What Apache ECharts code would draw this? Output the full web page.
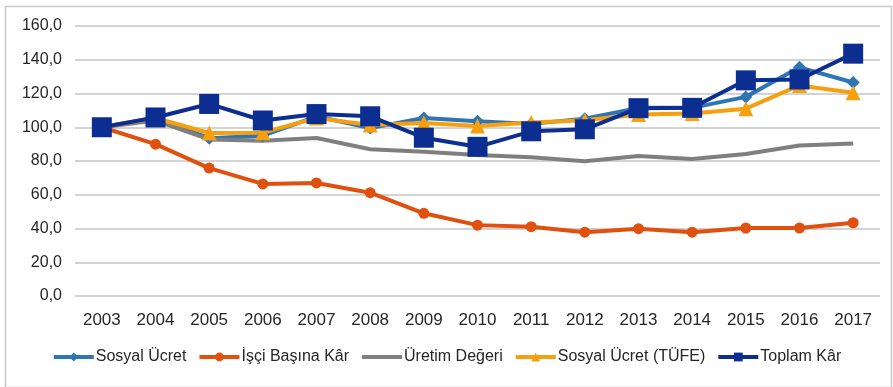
<!DOCTYPE html>
<html>
<head>
<meta charset="utf-8">
<script src="https://cdn.jsdelivr.net/npm/echarts@6/dist/echarts.min.js"></script>
<style>
  html, body { margin: 0; padding: 0; background: #ffffff; }
  #chart { width: 893px; height: 387px; }
</style>
</head>
<body>
<div id="chart"></div>
<script>
// Yıllar (kategori ekseni)
const years = ['2003', '2004', '2005', '2006', '2007', '2008', '2009', '2010',
               '2011', '2012', '2013', '2014', '2015', '2016', '2017'];

// Endeks değerleri (2003 = 100)
const sosyalUcret     = [100, 105.5, 93.5, 95.0, 106.5, 99.5, 105.5, 103.5, 102.0, 105.0, 111.5, 111.5, 118.0, 135.5, 126.5];
const isciBasinaKar   = [100, 90.0, 75.8, 66.4, 67.0, 61.2, 49.0, 42.0, 41.1, 37.8, 39.9, 37.8, 40.3, 40.3, 43.4];
const uretimDegeri    = [100, 104.0, 92.8, 92.0, 93.6, 87.0, 85.5, 83.6, 82.2, 79.8, 83.0, 81.2, 84.2, 89.2, 90.3];
const sosyalUcretTufe = [100, 105.5, 96.6, 96.8, 105.5, 101.3, 102.5, 100.8, 102.8, 104.2, 107.5, 108.2, 111.0, 124.8, 120.5];
const toplamKar       = [100, 105.8, 113.8, 104.0, 107.8, 106.5, 93.8, 88.4, 97.6, 98.8, 111.3, 111.5, 127.8, 128.3, 143.6];

// Y ekseni
const yMin = 0, yMax = 160, yStep = 20;

const fontFamily = '"Liberation Sans", Arial, sans-serif';
const textColor = '#262626';

const chart = echarts.init(document.getElementById('chart'), null, { renderer: 'canvas' });

function lineSeries(name, data, color, symbol, symbolSize, width) {
  return {
    name: name,
    type: 'line',
    data: data,
    symbol: symbol,
    symbolSize: symbolSize,
    showAllSymbol: true,
    lineStyle: { color: color, width: width },
    itemStyle: { color: color, borderWidth: 0 },
    emphasis: { disabled: true },
    animation: false
  };
}

chart.setOption({
  backgroundColor: '#ffffff',
  animation: false,
  graphic: [{
    type: 'rect',
    left: 3, top: 4,
    shape: { width: 886, height: 381 },
    style: { fill: 'none', stroke: '#c8c8c8', lineWidth: 1.5 },
    silent: true
  }],
  grid: { left: 75, right: 13, top: 26, bottom: 91, containLabel: false },
  xAxis: {
    type: 'category',
    data: years,
    boundaryGap: true,
    axisLine: { show: false },
    axisTick: { show: false },
    axisLabel: { color: textColor, fontSize: 17, fontFamily: fontFamily, margin: 16 }
  },
  yAxis: {
    type: 'value',
    min: yMin, max: yMax, interval: yStep,
    axisLine: { show: false },
    axisTick: { show: false },
    splitLine: { lineStyle: { color: '#c4c4c4', width: 1.5 } },
    axisLabel: {
      color: textColor, fontSize: 16, fontFamily: fontFamily, margin: 13,
      formatter: v => v.toFixed(1).replace('.', ',')
    }
  },
  legend: {
    bottom: 17,
    left: 'center',
    itemWidth: 40,
    itemHeight: 11,
    itemGap: 11,
    lineStyle: { width: 4 },
    textStyle: { color: textColor, fontSize: 16, fontFamily: fontFamily, padding: [0, 0, 0, -3] },
    data: [
      'Sosyal Ücret',
      'İşçi Başına Kâr',
      { name: 'Üretim Değeri', itemStyle: { opacity: 0 } },
      'Sosyal Ücret (TÜFE)',
      'Toplam Kâr'
    ]
  },
  series: [
    lineSeries('Sosyal Ücret', sosyalUcret, '#2e75b6', 'diamond', 13, 4),
    lineSeries('İşçi Başına Kâr', isciBasinaKar, '#e0500f', 'circle', 11, 4),
    lineSeries('Üretim Değeri', uretimDegeri, '#7f7f7f', 'none', 0, 4),
    lineSeries('Sosyal Ücret (TÜFE)', sosyalUcretTufe, '#f7a00f', 'triangle', 15, 4),
    lineSeries('Toplam Kâr', toplamKar, '#0d2e91', 'rect', 20, 4)
  ]
});
</script>
</body>
</html>
